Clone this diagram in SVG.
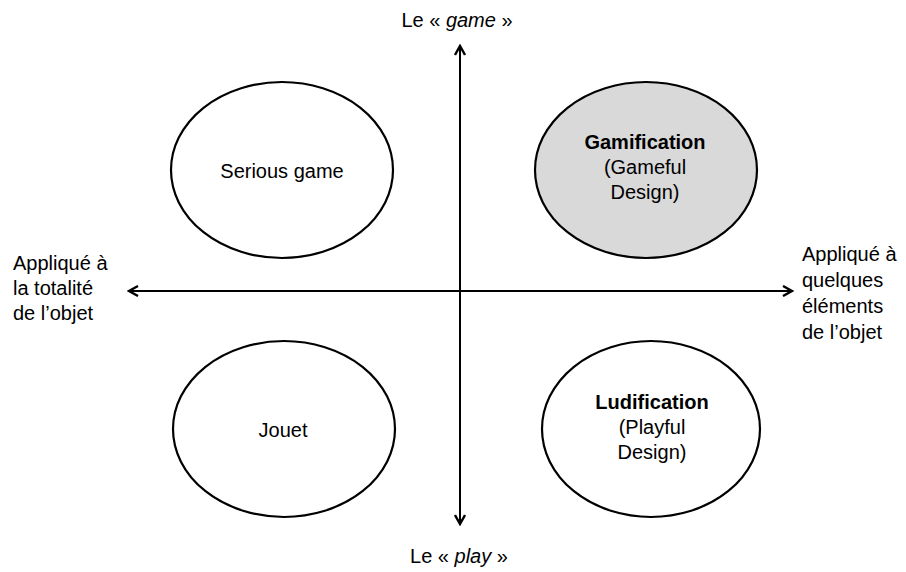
<svg xmlns="http://www.w3.org/2000/svg" width="906" height="572" viewBox="0 0 906 572">
<style>
  text { font-family: "Liberation Sans", Arial, sans-serif; font-size: 20px; fill: #000; }
  .c { text-anchor: middle; }
  .b { font-weight: bold; }
  .i { font-style: italic; }
  .node { stroke: #000; stroke-width: 2.2; }
  .axis { stroke: #000; stroke-width: 2; fill: none; }
</style>
<defs>
  <marker id="arr" viewBox="0 0 12 12" refX="10" refY="6" markerWidth="12" markerHeight="12" markerUnits="userSpaceOnUse" orient="auto-start-reverse">
    <path d="M1,1 L10,6 L1,11" fill="none" stroke="#000" stroke-width="2.4" stroke-linejoin="miter"/>
  </marker>
</defs>
<rect width="906" height="572" fill="#fff"/>
<g id="connectors">
  <line class="axis" x1="460" y1="46" x2="460" y2="524" marker-start="url(#arr)" marker-end="url(#arr)"/>
  <line class="axis" x1="129" y1="291" x2="792" y2="291" marker-start="url(#arr)" marker-end="url(#arr)"/>
</g>
<g id="serious-game">
  <ellipse class="node" cx="282" cy="170" rx="111" ry="88" fill="#fff"/>
  <text class="c" x="282" y="178">Serious game</text>
</g>
<g id="gamification">
  <ellipse class="node" cx="646" cy="170" rx="111" ry="88" fill="#d9d9d9"/>
  <text class="c b" x="645" y="149">Gamification</text>
  <text class="c" x="645" y="174">(Gameful</text>
  <text class="c" x="645" y="199">Design)</text>
</g>
<g id="jouet">
  <ellipse class="node" cx="284" cy="429" rx="111" ry="88" fill="#fff"/>
  <text class="c" x="283" y="437">Jouet</text>
</g>
<g id="ludification">
  <ellipse class="node" cx="651" cy="429" rx="109" ry="88" fill="#fff"/>
  <text class="c b" x="652" y="409">Ludification</text>
  <text class="c" x="652" y="434">(Playful</text>
  <text class="c" x="652" y="459">Design)</text>
</g>
<g id="label-game">
  <text class="c" x="457" y="27">Le « <tspan class="i">game</tspan> »</text>
</g>
<g id="label-play">
  <text class="c" x="459" y="563">Le « <tspan class="i">play</tspan> »</text>
</g>
<g id="label-left">
  <text x="13" y="270">Appliqué à</text>
  <text x="13" y="295">la totalité</text>
  <text x="13" y="320">de l’objet</text>
</g>
<g id="label-right">
  <text x="802" y="261">Appliqué à</text>
  <text x="802" y="287">quelques</text>
  <text x="802" y="313">éléments</text>
  <text x="802" y="339">de l’objet</text>
</g>
</svg>
